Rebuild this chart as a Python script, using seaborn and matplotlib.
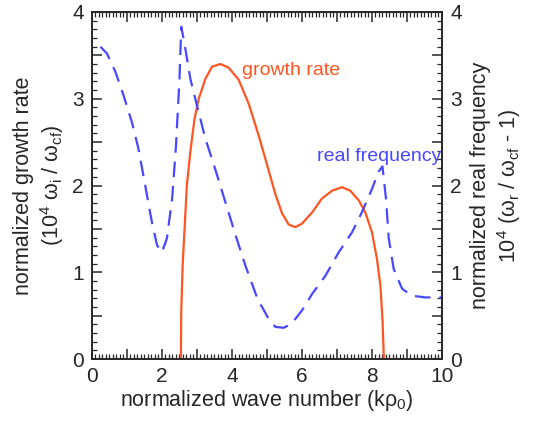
import matplotlib
matplotlib.use("Agg")
import matplotlib.pyplot as plt
from matplotlib.ticker import MultipleLocator, FuncFormatter
import seaborn as sns
import pandas as pd

# growth rate (solid, left axis)
growth_k = [2.54, 2.55, 2.59, 2.65, 2.71, 2.81, 2.93, 3.05, 3.24, 3.43, 3.67, 3.90, 4.19,
            4.48, 4.76, 4.86, 5.05, 5.24, 5.43, 5.62, 5.81, 6.00, 6.29, 6.57, 6.86,
            7.14, 7.38, 7.62, 7.81, 8.00, 8.14, 8.24, 8.30, 8.34]
growth_rate = [0.00, 0.54, 1.08, 1.54, 2.00, 2.39, 2.77, 3.00, 3.23, 3.37, 3.40, 3.36, 3.22,
               2.94, 2.58, 2.44, 2.17, 1.90, 1.68, 1.55, 1.52, 1.56, 1.69, 1.85, 1.94,
               1.98, 1.94, 1.83, 1.69, 1.46, 1.16, 0.85, 0.46, 0.00]

# real frequency (dashed, right axis)
freq_k = [0.24, 0.43, 0.67, 0.90, 1.14, 1.33, 1.52, 1.71, 1.86, 2.00, 2.14, 2.29, 2.40,
          2.50, 2.55, 2.65, 2.81, 3.00, 3.24, 3.52, 3.81, 4.10, 4.38, 4.76, 4.86,
          5.05, 5.24, 5.48, 5.71, 6.00, 6.29, 6.67, 7.05, 7.43, 7.71, 8.00, 8.19,
          8.30, 8.40, 8.48, 8.62, 8.86, 9.14, 9.52, 10.0]
real_freq = [3.60, 3.52, 3.31, 3.04, 2.73, 2.42, 2.00, 1.58, 1.31, 1.23, 1.39, 1.85, 2.46,
             3.23, 3.83, 3.62, 3.23, 2.92, 2.54, 2.19, 1.81, 1.43, 1.08, 0.66, 0.60,
             0.46, 0.37, 0.36, 0.41, 0.56, 0.75, 0.96, 1.23, 1.46, 1.69, 1.96, 2.16,
             2.22, 1.85, 1.39, 1.04, 0.81, 0.73, 0.71, 0.71]

orange = "#ff5522"
blue = "#4848ff"

sns.set_style("ticks")
plt.rcParams["font.family"] = ["Liberation Sans", "DejaVu Sans"]
plt.rcParams["mathtext.fontset"] = "custom"
plt.rcParams["mathtext.rm"] = "Liberation Sans"
plt.rcParams["mathtext.it"] = "Liberation Sans"

growth = pd.DataFrame({"k": growth_k, "rate": growth_rate})
freq = pd.DataFrame({"k": freq_k, "freq": real_freq})

fig = plt.figure(figsize=(5.33, 4.24), dpi=100)
ax = fig.add_axes([0.1726, 0.1533, 0.6566, 0.8184])
ax2 = ax.twinx()

sns.lineplot(data=growth, x="k", y="rate", ax=ax, color=orange, lw=1.6)
sns.lineplot(data=freq, x="k", y="freq", ax=ax2, color=blue, lw=1.6)
ax2.lines[0].set_dashes((7, 4))

int_only = FuncFormatter(lambda v, p: "%d" % round(v) if abs(v - round(v)) < 1e-6 else "")
even_only = FuncFormatter(lambda v, p: "%d" % round(v) if round(v) % 2 == 0 else "")

for a in (ax, ax2):
    a.set_xlim(0, 10)
    a.set_ylim(0, 4)
    a.yaxis.set_major_locator(MultipleLocator(0.5))
    a.yaxis.set_major_formatter(int_only)
    a.yaxis.set_minor_locator(MultipleLocator(0.1))
    for sp in a.spines.values():
        sp.set_linewidth(1.2)

ax.xaxis.set_major_locator(MultipleLocator(1))
ax.xaxis.set_major_formatter(even_only)
ax.xaxis.set_minor_locator(MultipleLocator(0.1))
ax.tick_params(axis="both", which="major", direction="in", length=7, width=1.1,
               labelsize=15, pad=6, top=True)
ax.tick_params(axis="both", which="minor", direction="in", length=3.5, width=0.9, top=True)
ax.tick_params(axis="y", which="both", left=True, right=False)
ax2.tick_params(axis="y", which="major", direction="in", length=7, width=1.1,
                labelsize=15, pad=6)
ax2.tick_params(axis="y", which="minor", direction="in", length=3.5, width=0.9)

ax.set_xlabel(r"normalized wave number (k$\rho_0$)", fontsize=15.5, labelpad=1)
ax.set_ylabel("normalized growth rate\n" + r"(10$^4$ $\omega_i$ / $\omega_{cf}$)",
              fontsize=15.5, labelpad=4)
ax2.set_ylabel("normalized real frequency\n" + r"10$^4$ ($\omega_r$ / $\omega_{cf}$ - 1)",
               fontsize=15.5, labelpad=6)

ax.text(4.28, 3.33, "growth rate", color=orange, fontsize=14, va="center", ha="left")
ax2.text(6.44, 2.33, "real frequency", color=blue, fontsize=14, va="center", ha="left")

fig.savefig("out.png", dpi=100)
